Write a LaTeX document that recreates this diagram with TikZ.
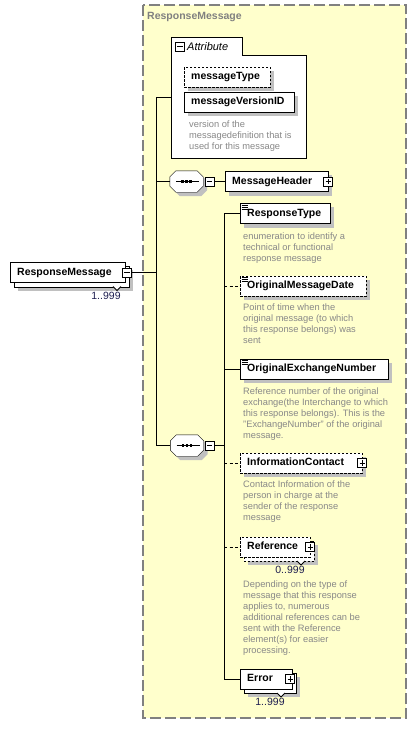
\documentclass[tikz,border=0pt]{standalone}
\usepackage{fontspec}
\setmainfont{Liberation Sans}
\usetikzlibrary{calc}
\pgfdeclarelayer{back}\pgfdeclarelayer{shad}\pgfdeclarelayer{copy}
\pgfsetlayers{back,shad,copy,main}
\definecolor{yel}{HTML}{FFFFCC}
\definecolor{bordc}{HTML}{808080}
\definecolor{shadc}{HTML}{C0C0C0}
\definecolor{descc}{HTML}{888888}
\definecolor{titlec}{HTML}{808080}
\definecolor{multc}{HTML}{1E1E50}
\newcommand\elemf{\fontsize{10.5}{12}\selectfont\bfseries}
\newcommand\shadowof[2][4pt]{\begin{pgfonlayer}{shad}\fill[shadc] ([shift={(#1,-#1)}]#2.north west) rectangle ([shift={(#1,-#1)}]#2.south east);\end{pgfonlayer}}
\newcommand\copyof[2][]{\begin{pgfonlayer}{copy}\draw[fill=white,#1] ([shift={(4pt,-4pt)}]#2.north west) rectangle ([shift={(4pt,-4pt)}]#2.south east);\end{pgfonlayer}}
\newcommand\octpath[1]{([xshift=6pt]#1.north west) -- ([xshift=-6pt]#1.north east) -- ([yshift=-6pt]#1.north east) -- ([yshift=6pt]#1.south east) -- ([xshift=-6pt]#1.south east) -- ([xshift=6pt]#1.south west) -- ([yshift=6pt]#1.south west) -- ([yshift=-6pt]#1.north west) -- cycle}
\newcommand\simpleicon[1]{\foreach \dy in {2,4,6} \draw[line width=0.7pt] ($(#1.north west)+(1.5,\dy)$) -- ++(6,0);}
\newcommand\seqdots[1]{\draw ([xshift=-10.5pt]#1.center) -- ([xshift=12.5pt]#1.center);
  \foreach \dx in {-4,0,4} \fill ($(#1.center)+(\dx,0)$) ++(-1.4pt,-1.4pt) rectangle ++(2.8pt,2.8pt);}
\begin{document}
\begin{tikzpicture}[x=1pt,y=-1pt,line width=1pt,
  elem/.style={draw, fill=white, anchor=west, font=\elemf, inner xsep=7pt, inner ysep=0pt,
    minimum height=20pt, text height=7.8pt, text depth=2.4pt, align=left},
  optdash/.style={dash pattern=on 2.5pt off 1.5pt},
  optelem/.style={elem, optdash},
  minusbox/.style={draw, fill=white, minimum size=9pt, inner sep=0pt, line width=0.9pt,
    path picture={\draw[line width=0.9pt] ([xshift=1.8pt]path picture bounding box.west) -- ([xshift=-1.8pt]path picture bounding box.east);}},
  plusbox/.style={draw, fill=white, minimum size=9pt, inner sep=0pt, line width=0.9pt,
    path picture={\draw[line width=0.9pt] ([xshift=1.8pt]path picture bounding box.west) -- ([xshift=-1.8pt]path picture bounding box.east);
      \draw[line width=0.9pt] ([yshift=-1.8pt]path picture bounding box.north) -- ([yshift=1.8pt]path picture bounding box.south);}},
  desc/.style={anchor=north west, inner sep=0pt, align=left, text=descc, font=\fontsize{9.3}{11}\selectfont},
  mult/.style={inner sep=0pt, text=multc, font=\fontsize{10.5}{12}\selectfont},
  seqbox/.style={minimum width=33pt, minimum height=21pt, inner sep=0pt},
  optconn/.style={dash pattern=on 3pt off 2.5pt},
  tri/.style={draw, fill=white, line width=0.8pt}
]
\useasboundingbox (0,0) rectangle (415,729);
\begin{pgfonlayer}{back}
\fill[yel] (143,5) rectangle (406,718);
\draw[bordc, line width=1.2pt, dash pattern=on 11pt off 4pt] (143,5) rectangle (406,718);
% attribute group frame
\draw[fill=white] (171,158) -- (171,37) -- (242,37) -- (242,55) -- (306,55) -- (306,158) -- cycle;
\end{pgfonlayer}
\node[anchor=west, inner sep=0pt, text=titlec, font=\fontsize{10.5}{12}\selectfont\bfseries] (title) at (147,17) {ResponseMessage};

% attribute group
\node[minusbox] (am) at (180,46.5) {};
\node[anchor=west, inner sep=0pt, font=\fontsize{11}{13}\selectfont\itshape] (alabel) at (187,46.5) {Attribute};
\node[optelem, text width=72pt] (mt) at (184,77) {messageType};
\node[elem, text width=96pt] (mv) at (184,102) {messageVersionID};
\shadowof{mt}\shadowof{mv}
\node[desc] (mvd) at (189,120.5) {version of the\\messagedefinition that is\\used for this message};

% trunk
\coordinate (j1) at (156,97);
\coordinate (j3) at (156,445.5);
\coordinate (aw) at (171,97);
\draw (j1) -- (j3);
\draw (j1) -- (aw);

% root element
\node[elem, text width=101pt] (rm) at (10,272.5) {ResponseMessage};
\copyof{rm}\shadowof[8pt]{rm}
\node[minusbox] (rmm) at (127,272.5) {};
\draw (rmm.east) -- (rmm.east -| j1);
\draw[tri] (113,286.5) -- (117,290.5) -- (121,286.5);
\node[mult] (rmmult) at (106,296) {1..999};

% sequence 1
\node[seqbox] (s1) at (186.5,181.5) {};
\begin{pgfonlayer}{shad}\fill[shadc, transform canvas={shift={(4pt,-4pt)}}] \octpath{s1};\end{pgfonlayer}
\draw[fill=white] \octpath{s1};
\seqdots{s1}
\draw (s1.west -| j1) -- (s1.west);
\node[minusbox] (s1m) at (209.5,181.5) {};
\node[elem, text width=89pt] (mh) at (225,181.5) {MessageHeader};
\shadowof{mh}
\node[plusbox] (mhp) at (mh.east) {};
\draw (s1m.east) -- (mh.west);

% sequence 2
\node[seqbox] (s2) at (187,445.5) {};
\begin{pgfonlayer}{shad}\fill[shadc, transform canvas={shift={(4pt,-4pt)}}] \octpath{s2};\end{pgfonlayer}
\draw[fill=white] \octpath{s2};
\seqdots{s2}
\draw (s2.west -| j1) -- (s2.west);
\node[minusbox] (s2m) at (209.5,445.5) {};
\coordinate (k) at (224,445.5);
\draw (s2m.east) -- (k);

% children
\node[elem, text width=76pt] (rt) at (240,213.5) {ResponseType};
\node[optelem, text width=112pt] (omd) at (240,286) {OriginalMessageDate};
\node[elem, text width=134pt] (oen) at (240,369) {OriginalExchangeNumber};
\node[optelem, text width=108pt] (ic) at (240,463) {InformationContact};
\node[optelem, text width=56pt] (ref) at (240,547) {Reference};
\node[elem, text width=38pt] (err) at (240,679) {Error};
\shadowof{rt}\shadowof{omd}\shadowof{oen}\shadowof{ic}
\copyof[optdash]{ref}\shadowof[8pt]{ref}
\copyof{err}\shadowof[8pt]{err}
\simpleicon{rt}\simpleicon{omd}\simpleicon{oen}
\node[plusbox] (icp) at (ic.east) {};
\node[plusbox] (refp) at (ref.east) {};
\node[plusbox] (errp) at ([xshift=-2pt]err.east) {};

\draw (rt.west -| k) -- (err.west -| k);
\draw (rt.west -| k) -- (rt.west);
\draw[optconn] (omd.west -| k) -- (omd.west);
\draw (oen.west -| k) -- (oen.west);
\draw[optconn] (ic.west -| k) -- (ic.west);
\draw[optconn] (ref.west -| k) -- (ref.west);
\draw (err.west -| k) -- (err.west);

\draw[tri] (297,561) -- (301,565) -- (305,561);
\node[mult] (refmult) at (290,569.5) {0..999};
\draw[tri] (277,693) -- (281,697) -- (285,693);
\node[mult] (errmult) at (270,701.5) {1..999};

% descriptions
\node[desc] (rtd) at (243,232.5) {enumeration to identify a\\technical or functional\\response message};
\node[desc] (omdd) at (243,303.5) {Point of time when the\\original message (to which\\this response belongs) was\\sent};
\node[desc] (oend) at (243,387.5) {Reference number of the original\\exchange(the Interchange to which\\this response belongs). This is the\\"ExchangeNumber" of the original\\message.};
\node[desc] (icd) at (243,480.5) {Contact Information of the\\person in charge at the\\sender of the response\\message};
\node[desc] (refd) at (243,580.5) {Depending on the type of\\message that this response\\applies to, numerous\\additional references can be\\sent with the Reference\\element(s) for easier\\processing.};
\end{tikzpicture}
\end{document}
